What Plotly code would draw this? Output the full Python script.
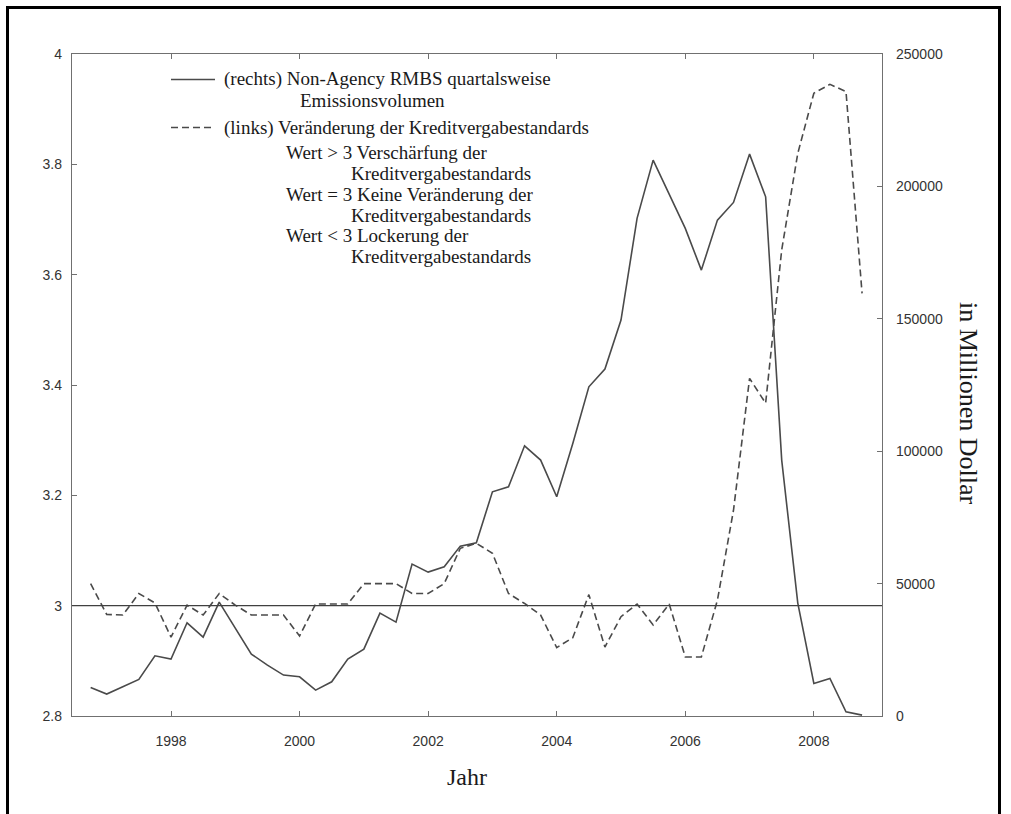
import plotly.graph_objects as go

# Quarterly time points (decimal years)
years = [1996.75, 1997.00, 1997.25, 1997.50, 1997.75,
         1998.00, 1998.25, 1998.50, 1998.75,
         1999.00, 1999.25, 1999.50, 1999.75,
         2000.00, 2000.25, 2000.50, 2000.75,
         2001.00, 2001.25, 2001.50, 2001.75,
         2002.00, 2002.25, 2002.50, 2002.75,
         2003.00, 2003.25, 2003.50, 2003.75,
         2004.00, 2004.25, 2004.50, 2004.75,
         2005.00, 2005.25, 2005.50, 2005.75,
         2006.00, 2006.25, 2006.50, 2006.75,
         2007.00, 2007.25, 2007.50, 2007.75,
         2008.00, 2008.25, 2008.50, 2008.75]

# (rechts) Non-Agency RMBS quarterly issuance, million dollars
issuance = [10800, 8270, 11030, 13820, 22730,
            21490, 35200, 29800, 43010,
            33200, 23380, 19220, 15450,
            14800, 9780, 12920, 21490,
            25260, 38860, 35460, 57360,
            54340, 56340, 64160, 65410,
            84670, 86550, 102040, 96640,
            82780, 102940, 124320, 131000,
            149500, 187910, 209930, 197350,
            184140, 168390, 187270, 193950,
            212190, 196070, 96640, 42630,
            12310, 14200, 1590, 340]

# (links) change in lending standards
standards = [3.040, 2.984, 2.983, 3.022, 3.005,
             2.943, 3.001, 2.983, 3.022,
             3.001, 2.983, 2.983, 2.983,
             2.945, 3.003, 3.003, 3.003,
             3.040, 3.040, 3.040, 3.022,
             3.022, 3.040, 3.104, 3.113,
             3.095, 3.022, 3.004, 2.983,
             2.924, 2.942, 3.020, 2.925,
             2.980, 3.003, 2.965, 3.003,
             2.907, 2.907, 3.010, 3.173,
             3.412, 3.367, 3.645, 3.820,
             3.929, 3.945, 3.932, 3.566]

x_ticks = [1998, 2000, 2002, 2004, 2006, 2008]
left_ticks = [2.8, 3.0, 3.2, 3.4, 3.6, 3.8, 4.0]
right_ticks = [0, 50000, 100000, 150000, 200000, 250000]

legend_lines = [
    ("(rechts) Non-Agency RMBS quartalsweise", 221.7, 79.5),
    ("Emissionsvolumen", 298, 100.5),
    ("(links) Veränderung der Kreditvergabestandards", 221.7, 127.5),
    ("Wert > 3 Verschärfung der", 284, 152.5),
    ("Kreditvergabestandards", 349, 173),
    ("Wert = 3 Keine Veränderung der", 284, 194),
    ("Kreditvergabestandards", 349, 215),
    ("Wert < 3 Lockerung der", 284, 235.5),
    ("Kreditvergabestandards", 349, 256.5),
]

W, H = 1011, 814
ML, MR, MT, MB = 72, 129, 54, 98
PW = W - ML - MR
PH = H - MT - MB


def px2x(px):
    return (px - ML) / PW


def py2y(py):
    return (H - MB - py) / PH


LINE_COL = "#4a4a4a"
AXIS_COL = "#707070"
SERIF = "Liberation Serif, Times New Roman, serif"
SANS = "Liberation Sans, Arial, sans-serif"

fig = go.Figure()
fig.add_trace(go.Scatter(x=years, y=standards, mode="lines", yaxis="y",
                         line=dict(color=LINE_COL, width=1.6, dash="7px,4px"),
                         showlegend=False, hoverinfo="skip"))
fig.add_trace(go.Scatter(x=years, y=issuance, mode="lines", yaxis="y2",
                         line=dict(color=LINE_COL, width=1.6),
                         showlegend=False, hoverinfo="skip"))

shapes = [
    # reference line at 3
    dict(type="line", xref="paper", yref="y", x0=0, x1=1, y0=3, y1=3,
         line=dict(color="#404040", width=1.2)),
    # legend samples
    dict(type="line", xref="paper", yref="paper", x0=px2x(171), x1=px2x(215),
         y0=py2y(79.5), y1=py2y(79.5), line=dict(color=LINE_COL, width=1.6)),
    dict(type="line", xref="paper", yref="paper", x0=px2x(171), x1=px2x(215),
         y0=py2y(127.5), y1=py2y(127.5),
         line=dict(color=LINE_COL, width=1.6, dash="7px,4px")),
    # outer frame
    dict(type="rect", xref="paper", yref="paper", x0=px2x(7.5), x1=px2x(999.5),
         y0=py2y(840), y1=py2y(7.5), line=dict(color="black", width=3),
         fillcolor="rgba(0,0,0,0)"),
]

annotations = []
for txt, x, y in legend_lines:
    annotations.append(dict(text=txt, xref="paper", yref="paper", x=px2x(x), y=py2y(y),
                            xanchor="left", yanchor="middle", showarrow=False,
                            font=dict(family=SERIF, size=19, color="#1a1a1a")))
annotations.append(dict(text="Jahr", xref="paper", yref="paper", x=px2x(467), y=py2y(777),
                        xanchor="center", yanchor="middle", showarrow=False,
                        font=dict(family=SERIF, size=24, color="#1a1a1a")))
annotations.append(dict(text="in Millionen Dollar", xref="paper", yref="paper",
                        x=px2x(968), y=py2y(404), textangle=90,
                        xanchor="center", yanchor="middle", showarrow=False,
                        font=dict(family=SERIF, size=26, color="#1a1a1a")))

tickfont = dict(family=SANS, size=14, color="#333333")

fig.update_layout(
    width=W, height=H,
    margin=dict(l=ML, r=MR, t=MT, b=MB, pad=0),
    paper_bgcolor="white", plot_bgcolor="white",
    showlegend=False,
    xaxis=dict(range=[1996.46, 2009.06], tickvals=x_ticks, tickformat="d",
               showgrid=False, zeroline=False, showline=True, linecolor=AXIS_COL,
               linewidth=1.2, mirror="ticks", ticks="inside", ticklen=5,
               tickcolor=AXIS_COL, tickfont=tickfont, ticklabelstandoff=12),
    yaxis=dict(range=[2.8, 4.0], tickvals=left_ticks, showgrid=False, zeroline=False,
               showline=True, linecolor=AXIS_COL, linewidth=1.2, ticks="inside",
               ticklen=5, tickcolor=AXIS_COL, tickfont=tickfont, ticklabelstandoff=6),
    yaxis2=dict(range=[0, 250000], tickvals=right_ticks, tickformat="d",
                overlaying="y", side="right", showgrid=False, zeroline=False,
                showline=True, linecolor=AXIS_COL, linewidth=1.2, ticks="inside",
                ticklen=5, tickcolor=AXIS_COL, tickfont=tickfont, ticklabelstandoff=10),
    shapes=shapes,
    annotations=annotations,
)

fig.write_html("out.html",
               config={"displayModeBar": False, "staticPlot": True},
               post_script="document.body.style.margin='0px';document.body.style.overflow='hidden';")
